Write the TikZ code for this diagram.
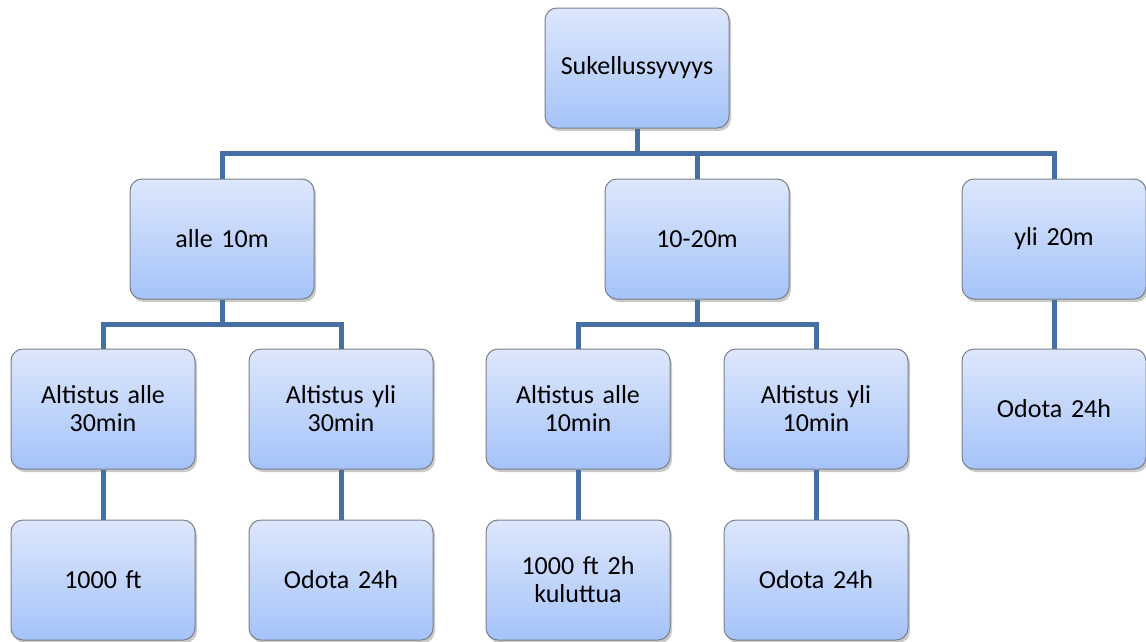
\documentclass[tikz,border=0pt]{standalone}
\usepackage{fontspec}
\setmainfont{Carlito}
\usetikzlibrary{shadows}
\definecolor{linkblue}{HTML}{4670A4}
\definecolor{boxtop}{HTML}{DDE7FC}
\definecolor{boxbot}{HTML}{A5C3F9}
\definecolor{boxedge}{HTML}{7A7F88}
\begin{document}
\begin{tikzpicture}[x=1pt,y=-1pt,
  box/.style={draw=boxedge, line width=1pt, rounded corners=12pt,
    top color=boxtop, bottom color=boxbot,
    minimum width=182pt, minimum height=120pt, align=center,
    inner sep=4pt, text width=176pt,
    font=\fontsize{26}{28}\selectfont,
    drop shadow={shadow xshift=2pt, shadow yshift=-3pt, opacity=0.3, fill=black!70}},
  link/.style={draw=linkblue, line width=5pt}]
\useasboundingbox (0,0) rectangle (1146,641);
% nodes
\node[box] (root) at (637,68) {Sukellussyvyys};
\node[box] (a) at (222,239) {alle 10m};
\node[box] (b) at (697,239) {10-20m};
\node[box] (c) at (1054,239) {yli 20m};
\node[box] (a1) at (103,409) {Altistus alle\\30min};
\node[box] (a2) at (341,409) {Altistus yli\\30min};
\node[box] (b1) at (578,409) {Altistus alle\\10min};
\node[box] (b2) at (816,409) {Altistus yli\\10min};
\node[box] (c1) at (1054,409) {Odota 24h};
\node[box] (a1x) at (103,580) {1000 ft};
\node[box] (a2x) at (341,580) {Odota 24h};
\node[box] (b1x) at (578,580) {1000 ft 2h\\kuluttua};
\node[box] (b2x) at (816,580) {Odota 24h};
% junction coordinates
\coordinate (j0) at (637,153);
\coordinate (ja) at (222,324);
\coordinate (jb) at (697,324);
% connectors
\draw[link] (root.south) -- (j0);
\draw[link] (a.north) |- (j0);
\draw[link] (b.north) |- (j0);
\draw[link] (c.north) |- (j0);
\draw[link] (a.south) -- (ja);
\draw[link] (a1.north) |- (ja);
\draw[link] (a2.north) |- (ja);
\draw[link] (b.south) -- (jb);
\draw[link] (b1.north) |- (jb);
\draw[link] (b2.north) |- (jb);
\draw[link] (c.south) -- (c1.north);
\draw[link] (a1.south) -- (a1x.north);
\draw[link] (a2.south) -- (a2x.north);
\draw[link] (b1.south) -- (b1x.north);
\draw[link] (b2.south) -- (b2x.north);
\end{tikzpicture}
\end{document}
